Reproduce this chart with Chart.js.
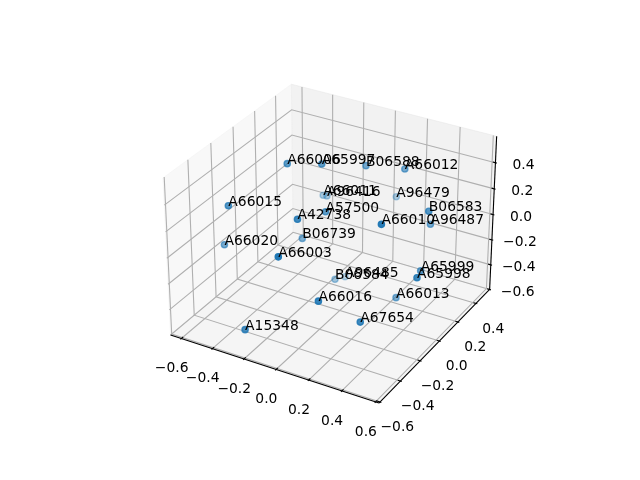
<!DOCTYPE html>
<html>
<head>
<meta charset="utf-8">
<script src="https://cdn.jsdelivr.net/npm/chart.js@4/dist/chart.umd.min.js"></script>
<style>body { margin: 0; background: #fff; } canvas { display: block; }</style>
</head>
<body>
<canvas id="chart" width="640" height="480"></canvas>
<script>
const names = ["A66006","A65997","B06588","A66012","A66011","A96416","A96479","A66015","A57500","B06583","A42738","A66010","A96487","B06739","A66020","A66003","A96485","B06584","A65999","A65998","A66013","A66016","A15348","A67654"];
const xValues = [-0.330,-0.168,-0.019,0.170,-0.335,-0.316,0.024,-0.515,-0.086,0.423,-0.113,0.336,0.366,-0.252,-0.581,-0.056,-0.143,-0.129,0.411,0.512,0.276,0.121,-0.239,0.311];
const yValues = [0.003,0.086,0.288,0.376,0.357,0.365,0.540,-0.275,-0.005,0.199,-0.230,-0.136,0.322,0.022,-0.230,-0.492,0.280,0.155,0.150,-0.065,0.127,-0.395,-0.539,-0.293];
const zValues = [0.429,0.427,0.336,0.317,-0.046,-0.050,-0.055,0.227,0.150,0.195,0.234,0.291,-0.008,-0.134,-0.128,0.153,-0.584,-0.510,-0.236,-0.098,-0.484,-0.186,-0.440,-0.350];
const xTicks = [-0.6,-0.4,-0.2,0,0.2,0.4,0.6];
const yTicks = [-0.6,-0.4,-0.2,0,0.2,0.4];
const zTicks = [-0.6,-0.4,-0.2,0,0.2,0.4];
const xLim = [-0.67, 0.62];
const yLim = [-0.61, 0.555];
const zLim = [-0.6, 0.6];

// same camera as a default mplot3d axes: elev 30, azim -60, box 4:4:3
const lims = [xLim, yLim, zLim];
const box = [1.1906, 1.1906, 0.893];
const dir = [0.4330, -0.75, 0.5];
const right = [0.8660, 0.5, 0];
const up = [-0.25, 0.4330, 0.8660];
const eye = box.map((b, i) => b / 2 + 10 * dir[i]);

function dot(a, b) { return a[0] * b[0] + a[1] * b[1] + a[2] * b[2]; }

function project(x, y, z) {
  const p = [x, y, z].map((v, i) => (v - lims[i][0]) / (lims[i][1] - lims[i][0]) * box[i] - eye[i]);
  const depth = -dot(p, dir);
  return { x: dot(p, right) / depth, y: dot(p, up) / depth, depth };
}

function path(pts) { return pts.map(p => project(p[0], p[1], p[2])); }

function lineSet(pts, color, width) {
  return { data: path(pts), showLine: true, borderColor: color, borderWidth: width, pointRadius: 0, fill: false };
}

function paneSet(pts, color) {
  return { data: path(pts), showLine: true, borderColor: color, backgroundColor: color, borderWidth: 1, pointRadius: 0, fill: "shape" };
}

const [x0, x1] = xLim, [y0, y1] = yLim, [z0, z1] = zLim;

const grid = [];
xTicks.forEach(t => grid.push(lineSet([[t,y0,z0],[t,y1,z0],[t,y1,z1]], "#b0b0b0", 1.1)));
yTicks.forEach(t => grid.push(lineSet([[x1,t,z0],[x0,t,z0],[x0,t,z1]], "#b0b0b0", 1.1)));
zTicks.forEach(t => grid.push(lineSet([[x0,y0,t],[x0,y1,t],[x1,y1,t]], "#b0b0b0", 1.1)));

const tickMarks = [];
xTicks.forEach(t => tickMarks.push(lineSet([[t,y0-0.008,z0],[t,y0+0.016,z0]], "#000", 1.1)));
yTicks.forEach(t => tickMarks.push(lineSet([[x1+0.008,t,z0],[x1-0.016,t,z0]], "#000", 1.1)));
zTicks.forEach(t => tickMarks.push(lineSet([[x1+0.008,y1,t],[x1-0.016,y1,t]], "#000", 1.1)));

const axisLines = [
  lineSet([[x0,y0,z0],[x1,y0,z0]], "#000", 1.1),
  lineSet([[x1,y0,z0],[x1,y1,z0]], "#000", 1.1),
  lineSet([[x1,y1,z0],[x1,y1,z1]], "#000", 1.1)
];

const panes = [
  paneSet([[x0,y0,z0],[x0,y1,z0],[x0,y1,z1],[x0,y0,z1],[x0,y0,z0]], "rgba(242,242,242,0.5)"),
  paneSet([[x0,y1,z0],[x1,y1,z0],[x1,y1,z1],[x0,y1,z1],[x0,y1,z0]], "rgba(230,230,230,0.5)"),
  paneSet([[x0,y0,z0],[x1,y0,z0],[x1,y1,z0],[x0,y1,z0],[x0,y0,z0]], "rgba(236,236,236,0.5)")
];

// back to front, fading with depth the way mplot3d does
const points = names.map((n, i) => project(xValues[i], yValues[i], zValues[i]));
const depths = points.map(p => p.depth);
const near = Math.min(...depths), far = Math.max(...depths);
const sorted = points.slice().sort((a, b) => a.depth - b.depth);
const shade = sorted.map(p => `rgba(31,119,180,${(1 - 0.7 * (p.depth - near) / (far - near)).toFixed(3)})`);

const scatter = {
  data: sorted,
  pointRadius: 3.1,
  pointBorderWidth: 1.4,
  pointBackgroundColor: shade,
  pointBorderColor: shade
};

const textFont = "13.89px 'DejaVu Sans'";

const labelPlugin = {
  id: "labels3d",
  afterDatasetsDraw(chart) {
    const ctx = chart.ctx, sx = chart.scales.x, sy = chart.scales.y;
    const at = p => [sx.getPixelForValue(p.x), sy.getPixelForValue(p.y)];
    ctx.save();
    ctx.font = textFont;
    ctx.fillStyle = "#000";
    ctx.textAlign = "left";
    ctx.textBaseline = "alphabetic";
    names.forEach((n, i) => {
      const [px, py] = at(points[i]);
      ctx.fillText(n, px, py);
    });
    ctx.textAlign = "center";
    ctx.textBaseline = "middle";
    const tickText = t => (t < 0 ? "\u2212" : "") + Math.abs(t).toFixed(1);
    xTicks.forEach(t => {
      const [px, py] = at(project(t, y0, z0));
      ctx.fillText(tickText(t), px - 9.7, py + 30);
    });
    yTicks.forEach(t => {
      const [px, py] = at(project(x1, t, z0));
      ctx.fillText(tickText(t), px + 17.3, py + 25.8);
    });
    zTicks.forEach(t => {
      const [px, py] = at(project(x1, y1, t));
      ctx.fillText(tickText(t), px + 28, py + 3);
    });
    ctx.restore();
  }
};

// 2d view limits that put the projected box where the reference has it
const pxPerUnit = 2005, originX = 333, originY = 236;

new Chart(document.getElementById("chart"), {
  type: "scatter",
  data: { datasets: [scatter, ...axisLines, ...tickMarks, ...grid, ...panes] },
  options: {
    responsive: false,
    animation: false,
    clip: false,
    layout: { padding: 0, autoPadding: false },
    plugins: { legend: { display: false }, tooltip: { enabled: false } },
    scales: {
      x: { display: false, bounds: "data", min: -originX / pxPerUnit, max: (640 - originX) / pxPerUnit },
      y: { display: false, bounds: "data", min: (originY - 480) / pxPerUnit, max: originY / pxPerUnit }
    }
  },
  plugins: [labelPlugin]
});
</script>
</body>
</html>
